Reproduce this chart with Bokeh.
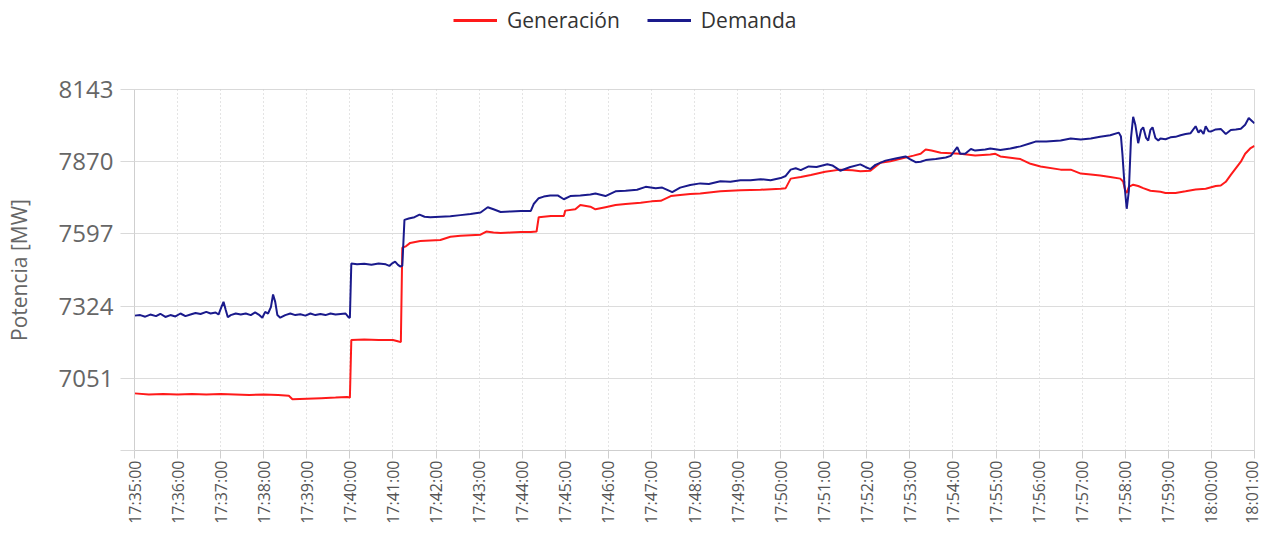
from bokeh.plotting import figure
from bokeh.layouts import column
from bokeh.models import Range1d, FixedTicker, Legend, LegendItem
from bokeh.embed import file_html
from bokeh.resources import INLINE

START = "17:35:00"
# seconds after 17:35:00 / MW
dem_t = [0, 8, 15, 22, 30, 36, 43, 50, 57, 64, 71, 78, 85, 92, 100, 106, 113, 117, 121, 124, 127, 130,
         134, 141, 148, 155, 162, 168, 173, 178, 182, 186, 190, 193, 196, 199, 203, 210, 217, 224, 231,
         238, 245, 252, 259, 266, 273, 280, 287, 294, 298, 300, 302, 310, 320, 330, 340, 350, 355, 359,
         363, 367, 370, 373, 376, 382, 390, 397, 404, 412, 426, 440, 454, 468, 482, 492, 500, 510, 524,
         538, 552, 556, 563, 570, 579, 590, 598, 607, 621, 635, 642, 656, 670, 684, 700, 712, 726, 735,
         749, 760, 774, 788, 800, 816, 830, 844, 858, 872, 886, 900, 907, 914, 921, 928, 939, 950, 965,
         972, 983, 997, 1011, 1018, 1025, 1032, 1046, 1060, 1074, 1080, 1088, 1095, 1102, 1116, 1130,
         1137, 1146, 1150, 1157, 1165, 1171, 1185, 1192, 1206, 1220, 1234, 1248, 1255, 1270, 1290, 1304,
         1318, 1332, 1345, 1359, 1371, 1374, 1376, 1379, 1382, 1385, 1388, 1391, 1394, 1398, 1402, 1405,
         1409, 1412, 1415, 1418, 1422, 1426, 1429, 1436, 1443, 1450, 1457, 1464, 1471, 1478, 1482, 1485,
         1489, 1492, 1496, 1499, 1506, 1513, 1520, 1527, 1534, 1541, 1547, 1552, 1556, 1560]
dem_v = [7288, 7290, 7284, 7292, 7286, 7295, 7283, 7290, 7285, 7296, 7286, 7292, 7298, 7294, 7302, 7296,
         7300, 7292, 7320, 7340, 7310, 7282, 7290, 7296, 7292, 7296, 7290, 7300, 7292, 7280, 7302, 7296,
         7320, 7368, 7340, 7290, 7280, 7290, 7296, 7290, 7293, 7288, 7296, 7290, 7294, 7290, 7296, 7292,
         7294, 7296, 7282, 7280, 7485, 7482, 7484, 7480, 7485, 7482, 7476, 7486, 7492, 7480, 7474, 7476,
         7650, 7655, 7660, 7670, 7662, 7660, 7662, 7664, 7668, 7672, 7678, 7698, 7690, 7680, 7682, 7684,
         7684, 7710, 7732, 7738, 7742, 7742, 7728, 7740, 7742, 7746, 7750, 7740, 7758, 7760, 7764, 7775,
         7770, 7772, 7755, 7772, 7782, 7788, 7786, 7796, 7794, 7800, 7800, 7804, 7800, 7808, 7816, 7840,
         7845, 7838, 7852, 7850, 7860, 7856, 7836, 7850, 7860, 7850, 7842, 7858, 7874, 7882, 7890, 7880,
         7868, 7870, 7876, 7880, 7886, 7892, 7925, 7900, 7900, 7918, 7912, 7916, 7920, 7914, 7920, 7928,
         7940, 7946, 7946, 7950, 7958, 7954, 7958, 7964, 7970, 7980, 7965, 7900, 7780, 7692, 7760, 7960,
         8040, 8010, 7940, 7990, 8000, 7960, 7950, 7990, 8000, 7960, 7950, 7958, 7955, 7962, 7964, 7970,
         7975, 7978, 8004, 7980, 7990, 7975, 8004, 7985, 7984, 7992, 7994, 7975, 7990, 7992, 7995, 8010,
         8035, 8025, 8015]

gen_t = [0, 20, 40, 60, 80, 100, 120, 140, 160, 180, 200, 215, 220, 240, 260, 280, 296, 300, 302, 320,
         340, 360, 368, 371, 373, 378, 384, 398, 412, 426, 440, 454, 468, 482, 490, 500, 510, 524, 538,
         552, 560, 563, 580, 598, 600, 614, 621, 635, 642, 656, 670, 684, 705, 720, 733, 747, 760, 774,
         788, 816, 844, 872, 900, 907, 914, 928, 942, 962, 983, 1000, 1011, 1025, 1039, 1053, 1067, 1085,
         1095, 1102, 1110, 1123, 1137, 1150, 1171, 1192, 1199, 1206, 1220, 1234, 1248, 1262, 1290, 1304,
         1318, 1332, 1345, 1359, 1373, 1377, 1380, 1382, 1385, 1391, 1398, 1405, 1415, 1429, 1436, 1450,
         1464, 1478, 1492, 1506, 1513, 1520, 1527, 1541, 1547, 1554, 1560]
gen_v = [6994, 6990, 6992, 6990, 6992, 6990, 6992, 6990, 6988, 6990, 6988, 6985, 6972, 6974, 6976, 6978,
         6980, 6978, 7196, 7198, 7196, 7196, 7190, 7188, 7545, 7550, 7563, 7570, 7572, 7574, 7586, 7590,
         7592, 7594, 7606, 7602, 7600, 7602, 7604, 7604, 7606, 7660, 7665, 7665, 7685, 7690, 7706, 7700,
         7690, 7698, 7706, 7710, 7715, 7720, 7722, 7740, 7744, 7748, 7750, 7758, 7762, 7764, 7768, 7770,
         7806, 7812, 7820, 7832, 7840, 7838, 7834, 7836, 7866, 7872, 7881, 7893, 7900, 7916, 7912, 7904,
         7902, 7900, 7893, 7897, 7900, 7890, 7885, 7880, 7862, 7852, 7840, 7840, 7825, 7822, 7818, 7812,
         7806, 7795, 7760, 7752, 7775, 7783, 7778, 7770, 7760, 7756, 7752, 7752, 7758, 7765, 7768, 7778,
         7780, 7794, 7820, 7870, 7900, 7920, 7930]

y_ticks = [6778, 7051, 7324, 7597, 7870, 8143]
x_tick_step = 60
x_end = 1560
series_names = ["Generación", "Demanda"]
series_colors = ["#ff1a1a", "#1a1a8c"]


def fmt(sec):
    h, m, s = [int(v) for v in START.split(":")]
    tot = h * 3600 + m * 60 + s + sec
    return "%02d:%02d:%02d" % (tot // 3600, (tot % 3600) // 60, tot % 60)


FONT = "Open Sans"
FRAME_H = 361
LEG_H = 36
TOP = 89

# ---- legend strip ----
lg = figure(frame_width=1262, frame_height=LEG_H, output_backend="svg", toolbar_location=None,
            x_range=Range1d(0, 1), y_range=Range1d(0, 1),
            min_border_left=0, min_border_right=0, min_border_top=0, min_border_bottom=0)
lg.axis.visible = False
lg.grid.visible = False
lg.outline_line_color = None
lk_gen = lg.line([0], [0], line_color=series_colors[0], line_width=3)
lk_dem = lg.line([0], [0], line_color=series_colors[1], line_width=3)
legend = Legend(items=[LegendItem(label=series_names[0], renderers=[lk_gen]),
                       LegendItem(label=series_names[1], renderers=[lk_dem])],
                orientation="horizontal", location=(453, 2),
                label_text_font=FONT, label_text_font_size="21px", label_text_color="#333333",
                glyph_width=44, glyph_height=22, label_height=22, label_standoff=10, spacing=27,
                padding=0, margin=0, border_line_color=None, background_fill_alpha=0)
lg.add_layout(legend, "center")

# ---- chart ----
p = figure(frame_width=1120, frame_height=FRAME_H, output_backend="svg", toolbar_location=None,
           x_range=Range1d(0, x_end), y_range=Range1d(y_ticks[0], y_ticks[-1]),
           min_border_left=134, min_border_right=8, min_border_top=TOP - LEG_H, min_border_bottom=92)
p.outline_line_color = "#d9d9d9"
p.background_fill_color = "white"
p.border_fill_color = "white"

r_gen = p.line(gen_t, gen_v, line_color=series_colors[0], line_width=2)
r_dem = p.line(dem_t, dem_v, line_color=series_colors[1], line_width=2)

xt = list(range(0, x_end + 1, x_tick_step))
p.xaxis.ticker = FixedTicker(ticks=xt)
p.xaxis.major_label_overrides = {t: fmt(t) for t in xt}
p.xaxis.major_label_orientation = 3.14159265 / 2
p.xaxis.major_label_text_font = FONT
p.xaxis.major_label_text_font_size = "16px"
p.xaxis.major_label_text_color = "#555555"
p.xaxis.major_label_standoff = 2
p.xaxis.major_tick_out = 8
p.xaxis.major_tick_in = 0
p.xaxis.minor_tick_out = 0
p.xaxis.minor_tick_in = 0
p.xaxis.major_tick_line_color = "#cfcfcf"
p.xaxis.axis_line_color = "#cfcfcf"

p.yaxis.ticker = FixedTicker(ticks=y_ticks)
p.yaxis.major_label_overrides = {y_ticks[0]: ""}
p.yaxis.major_label_text_font = FONT
p.yaxis.major_label_text_font_size = "24px"
p.yaxis.major_label_text_color = "#666666"
p.yaxis.major_label_standoff = 7
p.yaxis.major_tick_out = 14
p.yaxis.major_tick_in = 0
p.yaxis.minor_tick_out = 0
p.yaxis.minor_tick_in = 0
p.yaxis.major_tick_line_color = "#d9d9d9"
p.yaxis.axis_line_color = "#cfcfcf"
p.yaxis.axis_label = "Potencia [MW]"
p.yaxis.axis_label_text_font = FONT
p.yaxis.axis_label_text_font_size = "21px"
p.yaxis.axis_label_text_font_style = "normal"
p.yaxis.axis_label_text_color = "#666666"
p.yaxis.axis_label_standoff = 23

p.xgrid.grid_line_color = "#c8c8c8"
p.xgrid.grid_line_dash = "1 3"
p.ygrid.grid_line_color = "#dcdcdc"

layout = column(lg, p, spacing=0)
open("out.html", "w").write(file_html(layout, INLINE))
